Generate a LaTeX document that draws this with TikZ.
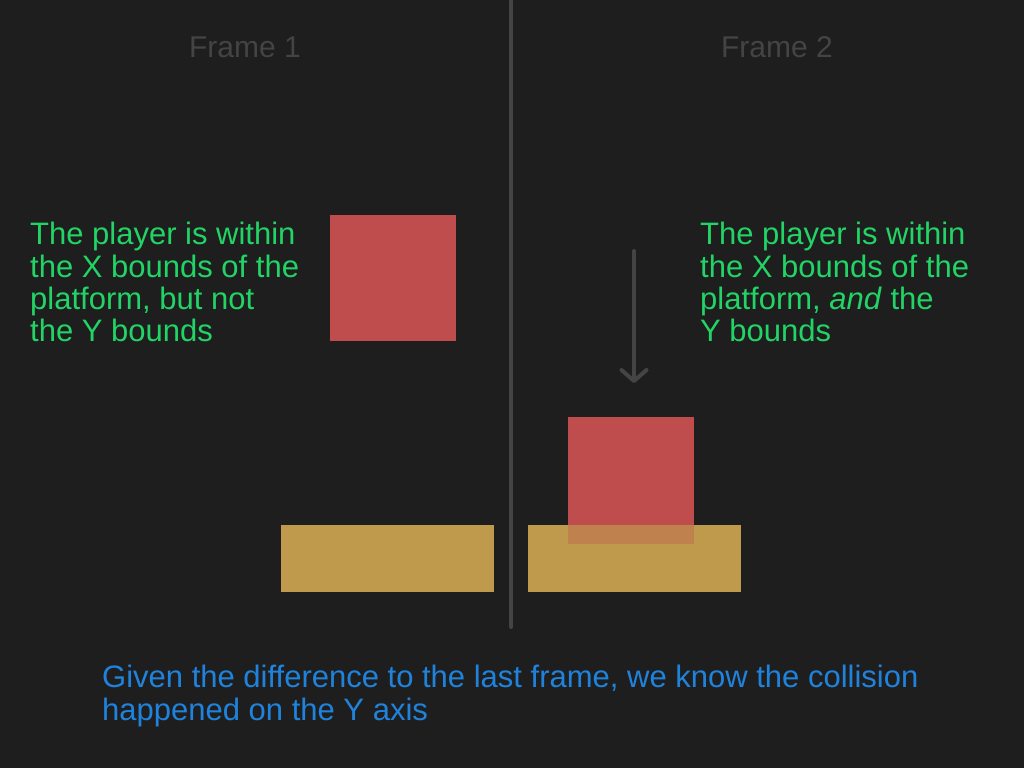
\documentclass[tikz,border=0pt]{standalone}
\usepackage{fontspec}
\setmainfont{Liberation Sans}
\usetikzlibrary{arrows.meta}
\definecolor{bg}{HTML}{1E1E1E}
\definecolor{dim}{HTML}{444444}
\definecolor{txtgreen}{HTML}{22D466}
\definecolor{txtblue}{HTML}{1F83DD}
\definecolor{playerred}{HTML}{C04D4D}
\definecolor{platyellow}{HTML}{BF9A4C}
\definecolor{overlap}{HTML}{BF814D}
\tikzset{
  big/.style={font=\fontsize{30}{32}\selectfont},
  body/.style={font=\fontsize{31}{32.4}\selectfont},
  title/.style={big, text=dim, anchor=base, inner sep=0},
  note/.style={body, text=txtgreen, align=left, anchor=north west, inner sep=0},
  player/.style={fill=playerred},
  platform/.style={fill=platyellow},
  divider/.style={draw=dim, line width=4pt, line cap=round},
  fallarrow/.style={draw=dim, line width=4pt, line cap=round, -{Straight Barb[length=11pt,width=25pt,round]}},
}
\begin{document}
\begin{tikzpicture}[x=1pt,y=-1pt]
\useasboundingbox (0,0) rectangle (1024,768);
\fill[bg] (0,0) rectangle (1024,768);
% divider
\coordinate (divtop) at (511,-5);
\coordinate (divbot) at (511,627);
\draw[divider] (divtop) -- (divbot);
% titles
\node[title] (f1) at (245,58) {Frame 1};
\node[title] (f2) at (777,58) {Frame 2};
% frame 1
\node[platform, draw=none, minimum width=213pt, minimum height=67pt, inner sep=0, anchor=north west] (plat1) at (281,525) {};
\node[player, draw=none, minimum width=126pt, minimum height=126pt, inner sep=0, anchor=north west] (p1) at (330,215) {};
\node[note] (t1) at (30,222) {The player is within\\the X bounds of the\\platform, but not\\the Y bounds};
% frame 2
\node[platform, draw=none, minimum width=213pt, minimum height=67pt, inner sep=0, anchor=north west] (plat2) at (528,525) {};
\node[player, draw=none, minimum width=126pt, minimum height=127pt, inner sep=0, anchor=north west] (p2) at (568,417) {};
\fill[overlap] (568,525) rectangle (694,544);
\node[note] (t2) at (700,222) {The player is within\\the X bounds of the\\platform, \textit{and} the\\Y bounds};
\coordinate (arrtop) at (634,251);
\coordinate (arrbot) at (634,383);
\draw[fallarrow] (arrtop) -- (arrbot);
% conclusion
\node[body, text=txtblue, align=left, anchor=north west, inner sep=0] (concl) at (102,665) {Given the difference to the last frame, we know the collision\\happened on the Y axis};
\end{tikzpicture}
\end{document}
